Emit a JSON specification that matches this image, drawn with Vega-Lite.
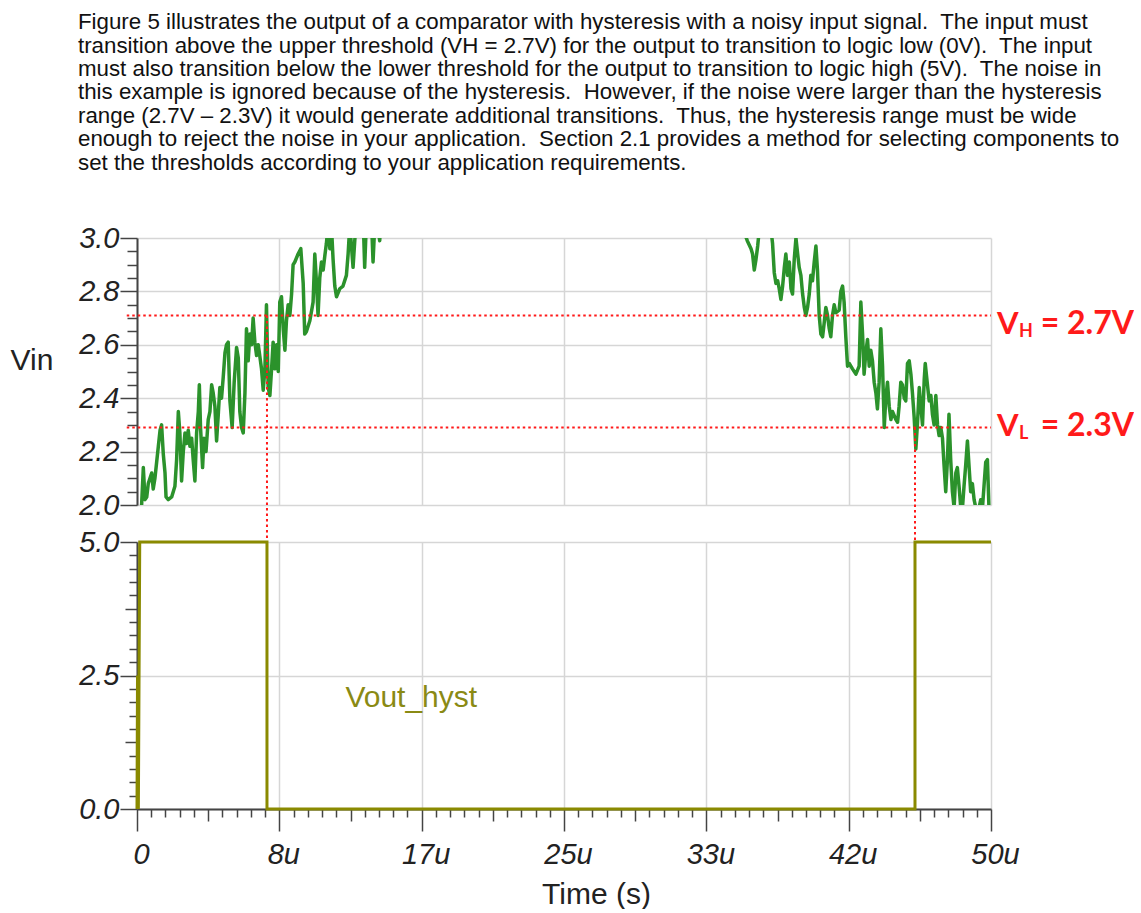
{
  "$schema": "https://vega.github.io/schema/vega-lite/v6.json",
  "padding": {"left": 10, "top": 11, "right": 0, "bottom": 0},
  "background": "white",
  "title": {
    "text": [
      "Figure 5 illustrates the output of a comparator with hysteresis with a noisy input signal.\u00a0 The input must",
      "transition above the upper threshold (VH = 2.7V) for the output to transition to logic low (0V).\u00a0 The input",
      "must also transition below the lower threshold for the output to transition to logic high (5V).\u00a0 The noise in",
      "this example is ignored because of the hysteresis.\u00a0 However, if the noise were larger than the hysteresis",
      "range (2.7V – 2.3V) it would generate additional transitions.\u00a0 Thus, the hysteresis range must be wide",
      "enough to reject the noise in your application.\u00a0 Section 2.1 provides a method for selecting components to",
      "set the thresholds according to your application requirements."
    ],
    "anchor": "start",
    "frame": "bounds",
    "dx": 68,
    "font": "Liberation Sans",
    "fontSize": 22.3,
    "fontWeight": "normal",
    "lineHeight": 23.4,
    "color": "#111111",
    "offset": 50
  },
  "datasets": {
    "vin": [
      {"t": 0.2, "v": 1.97}, {"t": 0.27, "v": 2.0}, {"t": 0.37, "v": 2.14}, {"t": 0.47, "v": 2.02},
      {"t": 0.57, "v": 2.03}, {"t": 0.66, "v": 2.08}, {"t": 0.86, "v": 2.12}, {"t": 0.95, "v": 2.06},
      {"t": 1.05, "v": 2.10}, {"t": 1.15, "v": 2.16}, {"t": 1.25, "v": 2.22}, {"t": 1.35, "v": 2.28},
      {"t": 1.44, "v": 2.30}, {"t": 1.54, "v": 2.19}, {"t": 1.64, "v": 2.12}, {"t": 1.70, "v": 2.03},
      {"t": 1.83, "v": 2.02}, {"t": 2.03, "v": 2.03}, {"t": 2.22, "v": 2.07}, {"t": 2.32, "v": 2.17},
      {"t": 2.42, "v": 2.35}, {"t": 2.51, "v": 2.27}, {"t": 2.61, "v": 2.09}, {"t": 2.71, "v": 2.20},
      {"t": 2.81, "v": 2.27}, {"t": 2.90, "v": 2.23}, {"t": 3.00, "v": 2.28}, {"t": 3.10, "v": 2.22},
      {"t": 3.20, "v": 2.25}, {"t": 3.29, "v": 2.17}, {"t": 3.39, "v": 2.09}, {"t": 3.49, "v": 2.27},
      {"t": 3.59, "v": 2.35}, {"t": 3.65, "v": 2.45}, {"t": 3.72, "v": 2.29}, {"t": 3.84, "v": 2.14},
      {"t": 3.92, "v": 2.25}, {"t": 4.04, "v": 2.20}, {"t": 4.17, "v": 2.32}, {"t": 4.27, "v": 2.35},
      {"t": 4.37, "v": 2.45}, {"t": 4.46, "v": 2.42}, {"t": 4.56, "v": 2.37}, {"t": 4.66, "v": 2.24},
      {"t": 4.76, "v": 2.34}, {"t": 4.85, "v": 2.44}, {"t": 4.95, "v": 2.40}, {"t": 5.05, "v": 2.48},
      {"t": 5.15, "v": 2.57}, {"t": 5.24, "v": 2.60}, {"t": 5.34, "v": 2.61}, {"t": 5.44, "v": 2.39},
      {"t": 5.57, "v": 2.29}, {"t": 5.69, "v": 2.46}, {"t": 5.83, "v": 2.59}, {"t": 5.93, "v": 2.55},
      {"t": 6.02, "v": 2.35}, {"t": 6.12, "v": 2.29}, {"t": 6.22, "v": 2.27}, {"t": 6.32, "v": 2.42},
      {"t": 6.41, "v": 2.66}, {"t": 6.51, "v": 2.54}, {"t": 6.61, "v": 2.64}, {"t": 6.71, "v": 2.60},
      {"t": 6.80, "v": 2.70}, {"t": 6.90, "v": 2.61}, {"t": 7.00, "v": 2.56}, {"t": 7.10, "v": 2.60},
      {"t": 7.29, "v": 2.51}, {"t": 7.39, "v": 2.43}, {"t": 7.49, "v": 2.51}, {"t": 7.58, "v": 2.75},
      {"t": 7.68, "v": 2.44}, {"t": 7.78, "v": 2.41}, {"t": 7.88, "v": 2.51}, {"t": 7.97, "v": 2.61},
      {"t": 8.07, "v": 2.51}, {"t": 8.17, "v": 2.60}, {"t": 8.27, "v": 2.50}, {"t": 8.36, "v": 2.76},
      {"t": 8.46, "v": 2.78}, {"t": 8.56, "v": 2.66}, {"t": 8.66, "v": 2.58}, {"t": 8.75, "v": 2.69},
      {"t": 8.85, "v": 2.75}, {"t": 8.95, "v": 2.71}, {"t": 9.05, "v": 2.79}, {"t": 9.14, "v": 2.90},
      {"t": 9.24, "v": 2.91}, {"t": 9.43, "v": 2.94}, {"t": 9.59, "v": 2.96}, {"t": 9.73, "v": 2.83},
      {"t": 9.82, "v": 2.64}, {"t": 9.92, "v": 2.65}, {"t": 10.12, "v": 2.69}, {"t": 10.31, "v": 2.76},
      {"t": 10.41, "v": 2.94}, {"t": 10.51, "v": 2.83}, {"t": 10.60, "v": 2.71}, {"t": 10.70, "v": 2.85},
      {"t": 10.80, "v": 2.91}, {"t": 10.90, "v": 2.88}, {"t": 10.99, "v": 2.93}, {"t": 11.09, "v": 2.98},
      {"t": 11.19, "v": 3.05}, {"t": 11.29, "v": 2.96}, {"t": 11.38, "v": 3.05}, {"t": 11.48, "v": 2.92},
      {"t": 11.58, "v": 2.82}, {"t": 11.68, "v": 2.78}, {"t": 11.87, "v": 2.81}, {"t": 12.06, "v": 2.82},
      {"t": 12.26, "v": 2.86}, {"t": 12.36, "v": 2.94}, {"t": 12.46, "v": 3.05}, {"t": 12.65, "v": 2.89},
      {"t": 12.75, "v": 2.99}, {"t": 12.85, "v": 3.08}, {"t": 13.23, "v": 3.10}, {"t": 13.33, "v": 2.89},
      {"t": 13.43, "v": 3.06}, {"t": 13.72, "v": 3.08}, {"t": 13.82, "v": 2.91}, {"t": 13.92, "v": 3.05},
      {"t": 14.10, "v": 3.04}, {"t": 14.21, "v": 2.99}, {"t": 14.31, "v": 3.10}, {"t": 15.0, "v": 3.2},
      {"t": 20.0, "v": 3.4}, {"t": 25.0, "v": 3.5}, {"t": 30.0, "v": 3.4}, {"t": 34.5, "v": 3.25},
      {"t": 35.4, "v": 3.05}, {"t": 35.56, "v": 3.02}, {"t": 35.73, "v": 2.99}, {"t": 35.95, "v": 2.96},
      {"t": 36.04, "v": 2.94}, {"t": 36.14, "v": 2.88}, {"t": 36.24, "v": 2.92}, {"t": 36.34, "v": 2.97},
      {"t": 36.43, "v": 3.03}, {"t": 36.73, "v": 3.15}, {"t": 37.12, "v": 3.03}, {"t": 37.21, "v": 2.98},
      {"t": 37.31, "v": 2.87}, {"t": 37.41, "v": 2.83}, {"t": 37.51, "v": 2.84}, {"t": 37.60, "v": 2.81},
      {"t": 37.70, "v": 2.77}, {"t": 37.80, "v": 2.82}, {"t": 37.90, "v": 2.89}, {"t": 37.99, "v": 2.94},
      {"t": 38.09, "v": 2.86}, {"t": 38.19, "v": 2.91}, {"t": 38.29, "v": 2.81}, {"t": 38.38, "v": 2.79},
      {"t": 38.48, "v": 2.92}, {"t": 38.58, "v": 3.0}, {"t": 38.68, "v": 2.94}, {"t": 38.77, "v": 2.89},
      {"t": 38.87, "v": 2.86}, {"t": 38.97, "v": 2.79}, {"t": 39.07, "v": 2.74}, {"t": 39.16, "v": 2.71},
      {"t": 39.26, "v": 2.74}, {"t": 39.36, "v": 2.79}, {"t": 39.45, "v": 2.86}, {"t": 39.55, "v": 2.84},
      {"t": 39.65, "v": 2.91}, {"t": 39.75, "v": 2.97}, {"t": 39.84, "v": 2.88}, {"t": 39.94, "v": 2.71},
      {"t": 40.04, "v": 2.64}, {"t": 40.14, "v": 2.63}, {"t": 40.23, "v": 2.68}, {"t": 40.33, "v": 2.74},
      {"t": 40.43, "v": 2.71}, {"t": 40.53, "v": 2.66}, {"t": 40.62, "v": 2.63}, {"t": 40.72, "v": 2.71},
      {"t": 40.82, "v": 2.75}, {"t": 40.92, "v": 2.72}, {"t": 41.11, "v": 2.73}, {"t": 41.21, "v": 2.80},
      {"t": 41.31, "v": 2.82}, {"t": 41.40, "v": 2.76}, {"t": 41.50, "v": 2.63}, {"t": 41.60, "v": 2.52},
      {"t": 41.70, "v": 2.53}, {"t": 41.89, "v": 2.51}, {"t": 42.09, "v": 2.49}, {"t": 42.28, "v": 2.52},
      {"t": 42.38, "v": 2.76}, {"t": 42.48, "v": 2.64}, {"t": 42.57, "v": 2.49}, {"t": 42.67, "v": 2.57},
      {"t": 42.77, "v": 2.62}, {"t": 42.87, "v": 2.52}, {"t": 42.96, "v": 2.58}, {"t": 43.06, "v": 2.54},
      {"t": 43.16, "v": 2.46}, {"t": 43.26, "v": 2.42}, {"t": 43.35, "v": 2.36}, {"t": 43.45, "v": 2.46},
      {"t": 43.55, "v": 2.66}, {"t": 43.65, "v": 2.52}, {"t": 43.75, "v": 2.29}, {"t": 43.84, "v": 2.40},
      {"t": 43.94, "v": 2.46}, {"t": 44.04, "v": 2.37}, {"t": 44.14, "v": 2.32}, {"t": 44.23, "v": 2.35},
      {"t": 44.43, "v": 2.32}, {"t": 44.53, "v": 2.31}, {"t": 44.62, "v": 2.37}, {"t": 44.72, "v": 2.46},
      {"t": 44.82, "v": 2.45}, {"t": 44.92, "v": 2.40}, {"t": 45.01, "v": 2.39}, {"t": 45.11, "v": 2.53},
      {"t": 45.21, "v": 2.54}, {"t": 45.31, "v": 2.49}, {"t": 45.40, "v": 2.42}, {"t": 45.50, "v": 2.33},
      {"t": 45.60, "v": 2.21}, {"t": 45.70, "v": 2.31}, {"t": 45.80, "v": 2.44}, {"t": 45.89, "v": 2.37},
      {"t": 45.99, "v": 2.30}, {"t": 46.09, "v": 2.47}, {"t": 46.15, "v": 2.53}, {"t": 46.28, "v": 2.45},
      {"t": 46.38, "v": 2.39}, {"t": 46.48, "v": 2.41}, {"t": 46.57, "v": 2.34}, {"t": 46.67, "v": 2.30},
      {"t": 46.77, "v": 2.41}, {"t": 46.87, "v": 2.30}, {"t": 46.96, "v": 2.26}, {"t": 47.06, "v": 2.29},
      {"t": 47.16, "v": 2.25}, {"t": 47.25, "v": 2.15}, {"t": 47.35, "v": 2.05}, {"t": 47.45, "v": 2.17},
      {"t": 47.54, "v": 2.34}, {"t": 47.64, "v": 2.17}, {"t": 47.74, "v": 2.05}, {"t": 47.84, "v": 1.99},
      {"t": 47.94, "v": 2.12}, {"t": 48.03, "v": 2.14}, {"t": 48.13, "v": 2.07}, {"t": 48.23, "v": 1.99},
      {"t": 48.33, "v": 1.99}, {"t": 48.42, "v": 2.07}, {"t": 48.52, "v": 2.15}, {"t": 48.62, "v": 2.24},
      {"t": 48.72, "v": 2.14}, {"t": 48.81, "v": 2.05}, {"t": 48.91, "v": 2.08}, {"t": 49.01, "v": 2.02},
      {"t": 49.11, "v": 1.99}, {"t": 49.30, "v": 1.99}, {"t": 49.40, "v": 2.02}, {"t": 49.50, "v": 1.99},
      {"t": 49.59, "v": 2.07}, {"t": 49.69, "v": 2.16}, {"t": 49.79, "v": 2.17}, {"t": 49.88, "v": 1.99},
      {"t": 50.0, "v": 2.0}
    ],
    "vout": [
      {"t": 0, "v": 0}, {"t": 0.03, "v": 2.5}, {"t": 0.08, "v": 0}, {"t": 0.16, "v": 5},
      {"t": 7.61, "v": 5}, {"t": 7.61, "v": 0}, {"t": 45.55, "v": 0}, {"t": 45.55, "v": 5}, {"t": 50, "v": 5}
    ],
    "hlines": [
      {"x1": -0.6, "x2": 50, "v": 2.71},
      {"x1": -0.6, "x2": 50, "v": 2.29}
    ],
    "vlines": [
      {"t": 7.61, "v1": 2.71, "v2": 1.864},
      {"t": 45.55, "v1": 2.29, "v2": 1.864}
    ],
    "labels": [
      {"t": 50, "v": 2.641, "main": "V", "sub": "H", "rest": "= 2.7V"},
      {"t": 50, "v": 2.257, "main": "V", "sub": "L", "rest": "= 2.3V"}
    ],
    "voutlabel": [
      {"t": 12.2, "v": 2.08, "name": "Vout_hyst"}
    ]
  },
  "vconcat": [
    {
      "width": 854,
      "height": 267,
      "layer": [
        {
          "data": {"name": "vin"},
          "mark": {"type": "line", "clip": true, "color": "#2b922b", "strokeWidth": 3.5, "strokeJoin": "round"},
          "encoding": {
            "x": {
              "field": "t", "type": "quantitative",
              "scale": {"domain": [0, 50], "nice": false, "zero": false},
              "axis": {
                "values": [0, 8.3333, 16.6667, 25, 33.3333, 41.6667, 50],
                "labels": false, "ticks": false, "domain": false,
                "grid": true, "gridColor": "#d6d6d6", "gridWidth": 1.5, "title": null
              }
            },
            "y": {
              "field": "v", "type": "quantitative",
              "scale": {"domain": [2, 3], "nice": false, "zero": false},
              "axis": {
                "orient": "left",
                "values": [2, 2.2, 2.4, 2.6, 2.8, 3],
                "format": ".1f",
                "tickSize": 17, "tickColor": "#444444", "tickWidth": 1.5,
                "domainColor": "#444444", "domainWidth": 2,
                "labelFont": "Liberation Sans", "labelFontSize": 29, "labelFontStyle": "italic",
                "labelColor": "#222222", "labelPadding": 1,
                "grid": true, "gridColor": "#d6d6d6", "gridWidth": 1.5,
                "title": "Vin", "titleAngle": 0, "titleX": -127, "titleY": 122,
                "titleAlign": "left", "titleBaseline": "middle",
                "titleFont": "Liberation Sans", "titleFontSize": 30, "titleFontWeight": "normal",
                "titleColor": "#222222"
              }
            }
          }
        },
        {
          "data": {"name": "vin"},
          "mark": {"type": "line", "opacity": 0, "clip": true},
          "encoding": {
            "x": {"field": "t", "type": "quantitative", "axis": null},
            "y": {
              "field": "v", "type": "quantitative",
              "axis": {
                "orient": "left",
                "values": [2.05, 2.1, 2.15, 2.25, 2.3, 2.35, 2.45, 2.5, 2.55, 2.65, 2.7, 2.75, 2.85, 2.9, 2.95],
                "labels": false, "domain": false, "grid": false,
                "tickSize": 10, "tickColor": "#444444", "tickWidth": 1.5, "title": null
              }
            }
          }
        },
        {
          "data": {"name": "hlines"},
          "mark": {"type": "rule", "color": "#ff1a1a", "strokeWidth": 2, "strokeDash": [2.5, 3]},
          "encoding": {
            "x": {"field": "x1", "type": "quantitative", "axis": null},
            "x2": {"field": "x2"},
            "y": {"field": "v", "type": "quantitative", "axis": null}
          }
        },
        {
          "data": {"name": "vlines"},
          "mark": {"type": "rule", "color": "#ff1a1a", "strokeWidth": 2, "strokeDash": [2.5, 3]},
          "encoding": {
            "x": {"field": "t", "type": "quantitative", "axis": null},
            "y": {"field": "v1", "type": "quantitative", "axis": null},
            "y2": {"field": "v2"}
          }
        },
        {
          "data": {"name": "labels"},
          "mark": {"type": "text", "font": "Lato", "fontWeight": "bold", "fontSize": 31, "color": "#ff1a1a", "align": "left", "baseline": "alphabetic", "dx": 6},
          "encoding": {
            "x": {"field": "t", "type": "quantitative", "axis": null},
            "y": {"field": "v", "type": "quantitative", "axis": null},
            "text": {"field": "main"}
          }
        },
        {
          "data": {"name": "labels"},
          "mark": {"type": "text", "font": "Lato", "fontWeight": "bold", "fontSize": 18, "color": "#ff1a1a", "align": "left", "baseline": "alphabetic", "dx": 28, "dy": 3},
          "encoding": {
            "x": {"field": "t", "type": "quantitative", "axis": null},
            "y": {"field": "v", "type": "quantitative", "axis": null},
            "text": {"field": "sub"}
          }
        },
        {
          "data": {"name": "labels"},
          "mark": {"type": "text", "font": "Lato", "fontWeight": "bold", "fontSize": 32, "color": "#ff1a1a", "align": "right", "baseline": "alphabetic", "dx": 143},
          "encoding": {
            "x": {"field": "t", "type": "quantitative", "axis": null},
            "y": {"field": "v", "type": "quantitative", "axis": null},
            "text": {"field": "rest"}
          }
        }
      ],
      "resolve": {"axis": {"x": "independent", "y": "independent"}}
    },
    {
      "width": 854,
      "height": 267,
      "layer": [
        {
          "data": {"name": "vout"},
          "mark": {"type": "line", "color": "#8a8a00", "strokeWidth": 3, "strokeJoin": "miter"},
          "encoding": {
            "x": {
              "field": "t", "type": "quantitative",
              "scale": {"domain": [0, 50], "nice": false, "zero": false},
              "axis": {
                "orient": "bottom",
                "values": [0, 8.3333, 16.6667, 25, 33.3333, 41.6667, 50],
                "labelExpr": "datum.value == 0 ? '0' : format(round(datum.value), 'd') + 'u'",
                "tickSize": 22, "tickColor": "#444444", "tickWidth": 1.5,
                "domainColor": "#444444", "domainWidth": 2,
                "labelFont": "Liberation Sans", "labelFontSize": 29, "labelFontStyle": "italic",
                "labelColor": "#222222", "labelPadding": 9, "labelOffset": 4, "labelFlush": false,
                "grid": true, "gridColor": "#d6d6d6", "gridWidth": 1.5,
                "title": "Time (s)", "titleX": 459, "titleY": 94, "titleAlign": "center",
                "titleBaseline": "alphabetic",
                "titleFont": "Liberation Sans", "titleFontSize": 30, "titleFontWeight": "normal",
                "titleColor": "#222222"
              }
            },
            "y": {
              "field": "v", "type": "quantitative",
              "scale": {"domain": [0, 5], "nice": false, "zero": false},
              "axis": {
                "orient": "left",
                "values": [0, 2.5, 5],
                "format": ".1f",
                "tickSize": 17, "tickColor": "#444444", "tickWidth": 1.5,
                "domainColor": "#444444", "domainWidth": 2,
                "labelFont": "Liberation Sans", "labelFontSize": 29, "labelFontStyle": "italic",
                "labelColor": "#222222", "labelPadding": 1,
                "grid": true, "gridColor": "#d6d6d6", "gridWidth": 1.5,
                "title": null
              }
            }
          }
        },
        {
          "data": {"name": "vout"},
          "mark": {"type": "line", "opacity": 0},
          "encoding": {
            "x": {
              "field": "t", "type": "quantitative",
              "axis": {
                "orient": "bottom",
                "values": [0.8333, 1.6667, 2.5, 3.3333, 5, 5.8333, 6.6667, 7.5, 9.1667, 10, 10.8333, 11.6667, 13.3333, 14.1667, 15, 15.8333, 17.5, 18.3333, 19.1667, 20, 21.6667, 22.5, 23.3333, 24.1667, 25.8333, 26.6667, 27.5, 28.3333, 30, 30.8333, 31.6667, 32.5, 34.1667, 35, 35.8333, 36.6667, 38.3333, 39.1667, 40, 40.8333, 42.5, 43.3333, 44.1667, 45, 46.6667, 47.5, 48.3333, 49.1667],
                "labels": false, "domain": false, "grid": false,
                "tickSize": 8, "tickColor": "#444444", "tickWidth": 1.5, "title": null
              }
            },
            "y": {
              "field": "v", "type": "quantitative",
              "axis": {
                "orient": "left",
                "values": [0.25, 0.5, 0.75, 1, 1.5, 1.75, 2, 2.25, 2.75, 3, 3.25, 3.5, 4, 4.25, 4.5, 4.75],
                "labels": false, "domain": false, "grid": false,
                "tickSize": 8, "tickColor": "#444444", "tickWidth": 1.5, "title": null
              }
            }
          }
        },
        {
          "data": {"name": "vout"},
          "mark": {"type": "line", "opacity": 0},
          "encoding": {
            "x": {
              "field": "t", "type": "quantitative",
              "axis": {
                "orient": "bottom",
                "values": [4.1667, 12.5, 20.8333, 29.1667, 37.5, 45.8333],
                "labels": false, "domain": false, "grid": false,
                "tickSize": 12, "tickColor": "#444444", "tickWidth": 1.5, "title": null
              }
            },
            "y": {
              "field": "v", "type": "quantitative",
              "axis": {
                "orient": "left",
                "values": [1.25, 3.75],
                "labels": false, "domain": false, "grid": false,
                "tickSize": 12, "tickColor": "#444444", "tickWidth": 1.5, "title": null
              }
            }
          }
        },
        {
          "data": {"name": "voutlabel"},
          "mark": {"type": "text", "font": "Liberation Sans", "fontSize": 30, "color": "#8a8a14", "align": "left", "baseline": "middle"},
          "encoding": {
            "x": {"field": "t", "type": "quantitative", "axis": null},
            "y": {"field": "v", "type": "quantitative", "axis": null},
            "text": {"field": "name"}
          }
        }
      ],
      "resolve": {"axis": {"x": "independent", "y": "independent"}}
    }
  ],
  "spacing": 37,
  "bounds": "flush",
  "config": {
    "view": {"stroke": null},
    "font": "Liberation Sans"
  }
}
